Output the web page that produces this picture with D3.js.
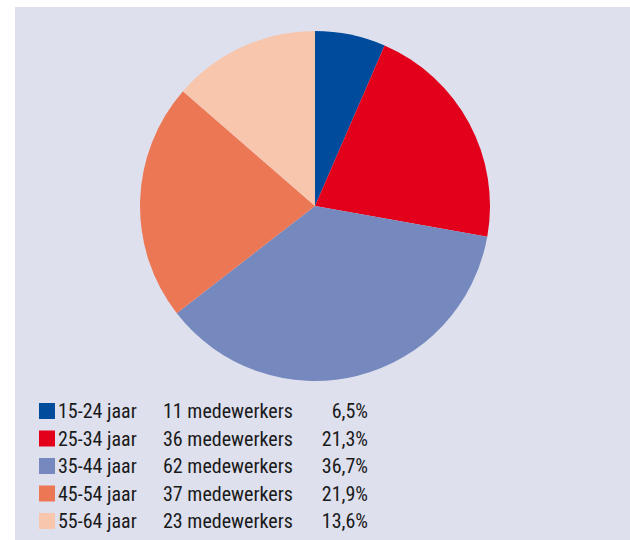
<!DOCTYPE html>
<html>
<head>
<meta charset="utf-8">
<script src="https://cdn.jsdelivr.net/npm/d3@7"></script>
<style>
  html, body { margin: 0; padding: 0; background: #ffffff; }
  svg { display: block; }
  .legend text { font-family: "Liberation Sans Narrow", "Roboto", sans-serif; font-stretch: condensed; font-size: 20px; fill: #1a1a1a; }
</style>
</head>
<body>
<div class="chart"></div>
<script>
// chart data
var ageGroups = ["15-24 jaar", "25-34 jaar", "35-44 jaar", "45-54 jaar", "55-64 jaar"];
var employees = [11, 36, 62, 37, 23];
var percentLabels = ["6,5%", "21,3%", "36,7%", "21,9%", "13,6%"];
var sliceColors = ["#004b9b", "#e2001a", "#7689bf", "#ec7755", "#f8c5ad"];

var svgWidth = 630;
var svgHeight = 540;

var svg = d3.select(".chart")
  .append("svg")
  .attr("width", svgWidth)
  .attr("height", svgHeight);

// panel background
svg.append("rect")
  .attr("x", 15)
  .attr("y", 7)
  .attr("width", svgWidth - 15)
  .attr("height", svgHeight - 7)
  .attr("fill", "#dee0ee");

var radius = 175;
var pieGroup = svg.append("g")
  .attr("transform", "translate(315, 206)");

var pie = d3.pie().sort(null).value(d => d);
var arc = d3.arc().innerRadius(0).outerRadius(radius);

pieGroup.selectAll("path")
  .data(pie(employees))
  .enter()
  .append("path")
  .attr("d", arc)
  .attr("fill", (d, i) => sliceColors[i]);

// legend
var rowY = d3.scalePoint()
  .domain(ageGroups)
  .range([403, 513]);

var legend = svg.append("g").attr("class", "legend");

var rows = legend.selectAll("g")
  .data(ageGroups)
  .enter()
  .append("g")
  .attr("transform", d => `translate(0, ${rowY(d)})`);

rows.append("rect")
  .attr("x", 39)
  .attr("y", 0)
  .attr("width", 16)
  .attr("height", 16)
  .attr("fill", (d, i) => sliceColors[i]);

rows.append("text")
  .attr("x", 58)
  .attr("y", 15)
  .text(d => d);

rows.append("text")
  .attr("x", 163)
  .attr("y", 15)
  .text((d, i) => employees[i] + " medewerkers");

rows.append("text")
  .attr("x", 368)
  .attr("y", 15)
  .attr("text-anchor", "end")
  .text((d, i) => percentLabels[i]);
</script>
</body>
</html>
